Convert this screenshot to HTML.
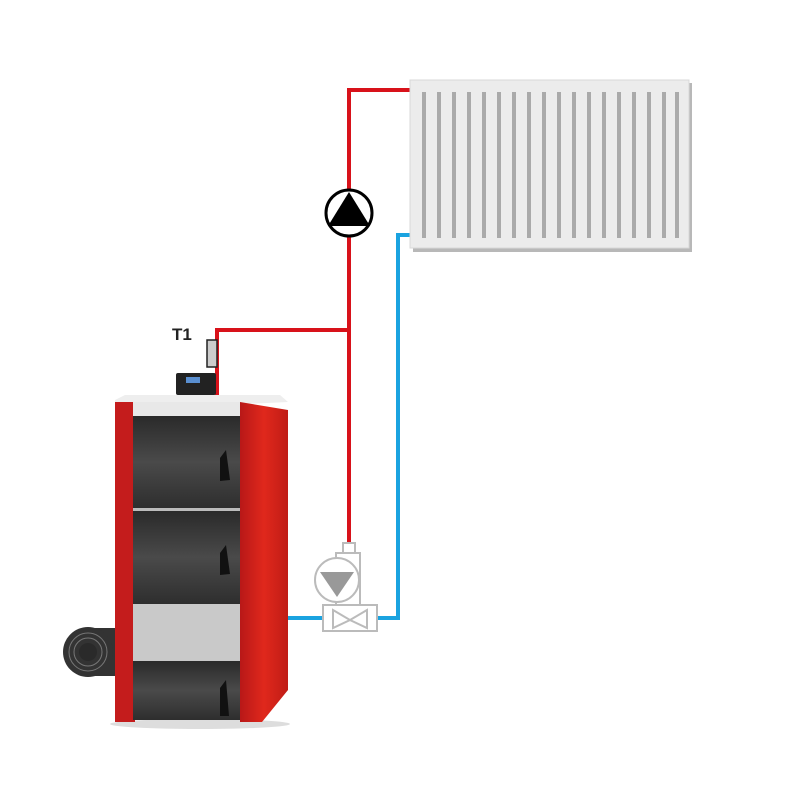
<!DOCTYPE html>
<html><head><style>body{margin:0;background:#fff}svg{display:block}</style></head><body>
<svg width="800" height="800" viewBox="0 0 800 800" xmlns="http://www.w3.org/2000/svg">
<defs>
<linearGradient id="dr" x1="0" y1="0" x2="0" y2="1"><stop offset="0" stop-color="#2a2a2a"/><stop offset="0.5" stop-color="#4a4a4a"/><stop offset="1" stop-color="#2e2e2e"/></linearGradient>
<linearGradient id="rp" x1="0" y1="0" x2="1" y2="0"><stop offset="0" stop-color="#b81818"/><stop offset="0.5" stop-color="#e0281c"/><stop offset="1" stop-color="#c01c16"/></linearGradient>
</defs>
<!-- pipes -->
<g fill="none" stroke-width="4">
<polyline points="410,90 349,90 349,543" stroke="#d8121a"/>
<polyline points="217,395 217,330 349,330" stroke="#d8121a"/>
<polyline points="410,235 398,235 398,618 377,618" stroke="#1aa3e0"/>
<line x1="288" y1="618" x2="323" y2="618" stroke="#1aa3e0"/>
</g>
<!-- radiator -->
<rect x="413" y="83" width="279" height="169" fill="#b8b8b8"/>
<rect x="410" y="80" width="279" height="168" fill="#ececec" stroke="#d8d8d8"/>
<g fill="#aaa">
<rect x="422" y="92" width="4" height="146"/><rect x="437" y="92" width="4" height="146"/><rect x="452" y="92" width="4" height="146"/><rect x="467" y="92" width="4" height="146"/><rect x="482" y="92" width="4" height="146"/><rect x="497" y="92" width="4" height="146"/><rect x="512" y="92" width="4" height="146"/><rect x="527" y="92" width="4" height="146"/><rect x="542" y="92" width="4" height="146"/><rect x="557" y="92" width="4" height="146"/><rect x="572" y="92" width="4" height="146"/><rect x="587" y="92" width="4" height="146"/><rect x="602" y="92" width="4" height="146"/><rect x="617" y="92" width="4" height="146"/><rect x="632" y="92" width="4" height="146"/><rect x="647" y="92" width="4" height="146"/><rect x="662" y="92" width="4" height="146"/><rect x="675" y="92" width="4" height="146"/>
</g>
<!-- pump -->
<circle cx="349" cy="213" r="23" fill="#fff" stroke="#000" stroke-width="3"/>
<polygon points="349,192 328,226 370,226" fill="#000"/>
<!-- T1 -->
<text x="172" y="340" font-family="Liberation Sans, sans-serif" font-weight="bold" font-size="17" fill="#222">T1</text>
<rect x="207" y="340" width="10" height="27" fill="#ccc" stroke="#222" stroke-width="1.5"/>
<!-- controller -->
<rect x="176" y="373" width="40" height="22" fill="#222" rx="2"/>
<rect x="186" y="377" width="14" height="6" fill="#5a8fd0"/>
<!-- roll -->
<rect x="88" y="628" width="30" height="48" fill="#333"/>
<circle cx="88" cy="652" r="25" fill="#333"/>
<circle cx="88" cy="652" r="19" fill="none" stroke="#777" stroke-width="1"/>
<circle cx="88" cy="652" r="14" fill="none" stroke="#777" stroke-width="1"/>
<circle cx="88" cy="652" r="9" fill="#2a2a2a"/>
<!-- boiler -->
<ellipse cx="200" cy="724" rx="90" ry="5" fill="#ddd"/>
<polygon points="115,400 125,395 280,395 288,402 115,410" fill="#eee"/>
<rect x="115" y="402" width="20" height="320" fill="#c41c1c"/>
<polygon points="240,402 288,410 288,690 262,722 240,722" fill="url(#rp)"/>
<rect x="133" y="402" width="107" height="14" fill="#e8e8e8"/>
<rect x="133" y="416" width="107" height="92" fill="url(#dr)"/>
<rect x="133" y="508" width="107" height="3" fill="#bbb"/>
<rect x="133" y="511" width="107" height="93" fill="url(#dr)"/>
<rect x="133" y="604" width="107" height="57" fill="#c9c9c9"/>
<rect x="133" y="661" width="107" height="59" fill="url(#dr)"/>
<g fill="#111"><polygon points="220,458 226,450 230,480 220,481"/><polygon points="220,553 226,545 230,574 220,575"/><polygon points="220,688 226,680 229,716 220,716"/></g>
<!-- mixing pump/valve -->
<g fill="#fff" stroke="#bbb" stroke-width="2">
<rect x="343" y="543" width="12" height="10"/>
<rect x="336" y="553" width="24" height="52"/>
<circle cx="337" cy="580" r="22"/>
<rect x="323" y="605" width="54" height="26"/>
</g>
<polygon points="320,572 354,572 337,597" fill="#999"/>
<g fill="none" stroke="#bbb" stroke-width="2"><polygon points="333,610 350,620 333,628"/><polygon points="367,610 350,620 367,628"/></g>
</svg>
</body></html>
